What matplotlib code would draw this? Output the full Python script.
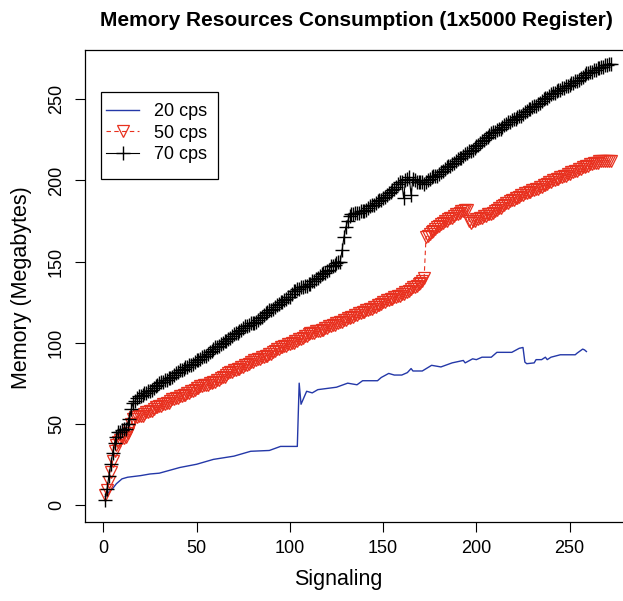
import matplotlib.pyplot as plt
from matplotlib.patches import Rectangle

plt.rcParams['font.family'] = ['Liberation Sans', 'DejaVu Sans']

# 20 cps: drawn as a plain line, values read at its break points
sig_20 = [1, 3, 5, 7, 10, 13, 20, 25, 30, 41, 50, 59, 70, 79, 89, 95, 104, 105,
          106, 109, 112, 115, 125, 131, 136, 139, 147, 149, 153, 156, 160, 163,
          165, 166, 171, 176, 181, 187, 193, 194, 198, 200, 203, 208, 211, 219,
          223, 225, 226, 227, 231, 232, 235, 237, 238, 240, 245, 253, 254, 257,
          258, 259]
mem_20 = [5, 8, 10, 13, 16, 17, 18, 19, 19.5, 23, 25, 28, 30, 33, 33.5, 36, 36, 75,
          62, 70, 69, 71, 72.5, 75, 74, 76.5, 76.5, 78.5, 81, 80, 80, 81.5,
          84, 82.5, 82.5, 86, 85, 87.5, 89, 87.5, 90, 89.5, 91, 91, 94, 94,
          96.5, 97, 88, 87, 87.5, 89.5, 89.5, 91, 89.5, 91, 92.5, 92.5, 93.5, 96,
          95.5, 94.5]

# 50 cps: one value per signaling step, starting at 1
mem_50 = [6, 9, 14, 20, 27, 33, 37, 39, 40, 41,
          41, 42, 44, 46, 50, 53, 54, 54, 55, 55,
          55, 56, 57, 57, 58, 58, 59, 60, 60, 61,
          61, 62, 62, 63, 63, 64, 65, 65, 66, 66,
          67, 67, 68, 68, 69, 69, 70, 70, 71, 72,
          72, 73, 73, 74, 74, 74, 75, 75, 76, 76,
          77, 77, 78, 79, 79, 80, 81, 82, 82, 83,
          83, 84, 84, 85, 85, 86, 86, 87, 88, 88,
          89, 89, 90, 90, 91, 91, 92, 92, 93, 93,
          94, 95, 96, 96, 97, 97, 98, 98, 99, 99,
          100, 100, 101, 101, 102, 102, 103, 104, 104, 105,
          106, 106, 106, 107, 107, 107, 108, 108, 109, 109,
          110, 110, 111, 111, 112, 112, 113, 113, 114, 114,
          115, 115, 116, 116, 117, 117, 118, 118, 119, 119,
          120, 120, 121, 121, 122, 122, 123, 123, 124, 125,
          125, 126, 126, 127, 127, 128, 128, 129, 129, 130,
          130, 131, 131, 132, 133, 134, 134, 135, 136, 137,
          138, 140, 165, 166, 167, 168, 169, 170, 171, 172,
          173, 174, 175, 175, 176, 177, 177, 178, 179, 179,
          180, 181, 181, 182, 182, 175, 174, 175, 175, 176,
          176, 177, 177, 178, 178, 179, 179, 179, 180, 181,
          182, 183, 183, 184, 185, 186, 186, 187, 188, 188,
          189, 189, 190, 191, 191, 192, 192, 193, 193, 194,
          194, 195, 195, 196, 196, 197, 197, 198, 199, 199,
          200, 200, 201, 201, 202, 202, 203, 203, 204, 204,
          205, 205, 206, 206, 207, 207, 208, 208, 209, 209,
          210, 210, 211, 211, 211, 212, 212, 212, 212, 212,
          212, 212]

# 70 cps: one value per signaling step, starting at 1
mem_70 = [3, 10, 18, 25, 32, 38, 42, 45, 45, 46,
          47, 47, 50, 53, 59, 63, 64, 66, 67, 67,
          68, 69, 69, 70, 70, 71, 72, 73, 74, 75,
          76, 76, 77, 77, 78, 78, 79, 80, 81, 82,
          83, 83, 84, 85, 85, 86, 86, 87, 88, 89,
          89, 90, 91, 92, 92, 93, 94, 95, 96, 97,
          97, 98, 99, 100, 101, 101, 102, 103, 104, 105,
          106, 106, 107, 108, 109, 110, 110, 111, 112, 112,
          112, 113, 114, 115, 116, 117, 118, 119, 120, 120,
          121, 122, 123, 124, 125, 125, 126, 127, 128, 128,
          130, 132, 132, 133, 133, 134, 134, 135, 135, 136,
          136, 138, 138, 139, 140, 141, 142, 143, 143, 144,
          145, 147, 147, 148, 149, 150, 150, 157, 165, 171,
          175, 178, 179, 179, 180, 180, 180, 181, 181, 181,
          182, 183, 184, 185, 185, 186, 187, 188, 188, 189,
          190, 191, 192, 193, 194, 195, 196, 198, 199, 199,
          189, 200, 201, 202, 191, 201, 200, 199, 199, 199,
          199, 198, 199, 200, 201, 202, 203, 203, 203, 204,
          205, 206, 207, 208, 209, 209, 210, 211, 212, 213,
          214, 214, 215, 216, 217, 218, 218, 219, 220, 221,
          222, 223, 224, 225, 226, 227, 228, 229, 230, 230,
          231, 232, 232, 233, 234, 235, 236, 236, 237, 238,
          238, 239, 240, 240, 241, 242, 243, 244, 244, 245,
          246, 246, 247, 248, 249, 250, 251, 251, 252, 253,
          254, 254, 255, 256, 256, 257, 257, 258, 258, 259,
          260, 260, 261, 261, 262, 263, 264, 265, 266, 266,
          267, 267, 268, 268, 269, 269, 270, 270, 271, 271,
          272, 272]

labels = ['20 cps', '50 cps', '70 cps']
ticks = [0, 50, 100, 150, 200, 250]

W, H = 623, 601
fig = plt.figure(figsize=(W / 100, H / 100), dpi=100)
# plot region is cropped on the right in the original
ax = fig.add_axes([84.5 / W, (H - 522) / H, 556 / W, 472 / H])

sig_50 = list(range(1, len(mem_50) + 1))
sig_70 = list(range(1, len(mem_70) + 1))

ax.plot(sig_20, mem_20, color='#2438a8', lw=1.0, label=labels[0])
ax.plot(sig_50, mem_50, color='#e8301e', lw=0.8, ls=(0, (4, 3)), marker='v',
        mfc='none', ms=8.5, mew=0.9, label=labels[1])
ax.plot(sig_70, mem_70, color='black', lw=0.8, marker='+', ms=10, mew=1.0,
        label=labels[2])

ax.set_xlim(-10.1, 288)
ax.set_ylim(-10.6, 280.4)
ax.set_xticks(ticks)
ax.set_yticks(ticks)
ax.tick_params(direction='out', length=7, width=0.8, labelsize=13, color='black')
ax.tick_params(axis='x', pad=6)
ax.tick_params(axis='y', pad=7, labelrotation=90)
for lab in ax.get_yticklabels():
    lab.set_va('center')
for sp in ax.spines.values():
    sp.set_linewidth(0.9)

fig.text(356 / W, 1 - 21 / H, 'Memory Resources Consumption (1x5000 Register)',
         ha='center', va='center', fontsize=15, fontweight='bold')
fig.text(338 / W, 1 - 579 / H, 'Signaling', ha='center', va='center', fontsize=15.5)
fig.text(22 / W, 1 - 288 / H, 'Memory (Megabytes)', ha='center', va='center',
         rotation=90, fontsize=15.5)

leg = ax.legend(loc='upper left', bbox_to_anchor=(106 / W, 1 - 103 / H),
                bbox_transform=fig.transFigure, frameon=False, fontsize=13,
                handlelength=1.85, handletextpad=0.8, labelspacing=0.25,
                borderpad=0, borderaxespad=0)
fig.add_artist(Rectangle((100.7 / W, 1 - 179 / H), 117 / W, 86.7 / H,
                         transform=fig.transFigure, fill=False,
                         ec='black', lw=0.9))

fig.savefig('out.png', dpi=100)
